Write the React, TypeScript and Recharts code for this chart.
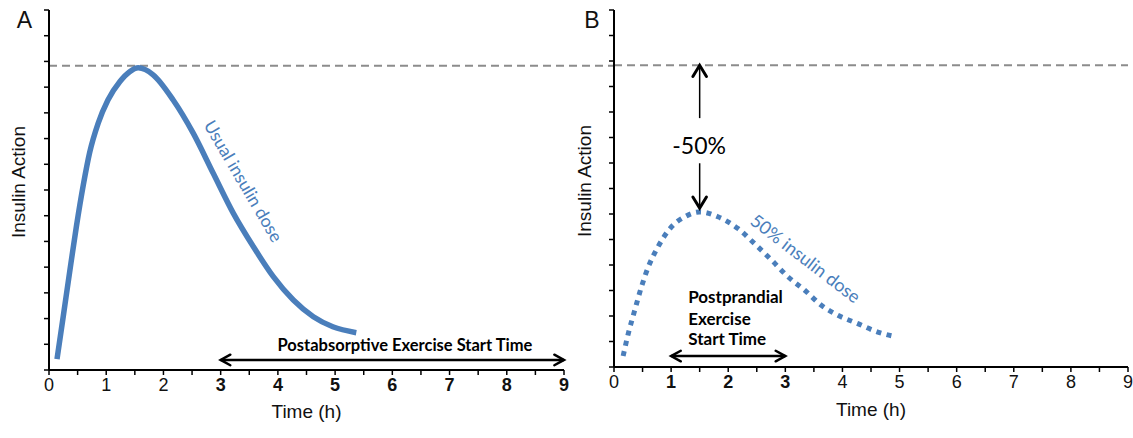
import React from 'react';
import { ComposedChart, Line, XAxis, YAxis, ReferenceLine, ReferenceDot } from 'recharts';

// panel A: usual insulin dose (solid)
const usualTime = [0.14, 0.25, 0.36, 0.48, 0.6, 0.71, 0.86, 1.03, 1.24, 1.41, 1.56, 1.82, 2.17, 2.52, 2.87, 3.22, 3.57, 3.92, 4.27, 4.62, 4.96, 5.37];
const usualAction = [0.42, 2.1, 3.8, 5.6, 7.2, 8.45, 9.6, 10.5, 11.22, 11.6, 11.75, 11.48, 10.5, 9.21, 7.65, 6.1, 4.8, 3.63, 2.72, 2.07, 1.68, 1.45];

// panel B: 50% insulin dose (dotted)
const halfTime = [0.16, 0.25, 0.36, 0.48, 0.6, 0.77, 0.98, 1.24, 1.5, 1.82, 2.17, 2.46, 2.76, 3.05, 3.34, 3.63, 3.92, 4.27, 4.62, 4.95];
const halfAction = [0.43, 1.31, 2.2, 3.14, 3.92, 4.71, 5.43, 5.89, 6.08, 5.89, 5.43, 4.84, 4.19, 3.53, 3.01, 2.42, 2.03, 1.7, 1.37, 1.18];

const timeTicks = [0, 0.5, 1, 1.5, 2, 2.5, 3, 3.5, 4, 4.5, 5, 5.5, 6, 6.5, 7, 7.5, 8, 8.5, 9];
const actionTicks = [0, 1, 2, 3, 4, 5, 6, 7, 8, 9, 10, 11, 12, 13, 14];
const peakLevel = 11.83;

const boldTicksA = [3, 4, 5, 6, 7, 8, 9];
const boldTicksB = [1, 2, 3];

// exercise windows [start, end] in hours
const windowA = [3, 9];
const windowB = [1, 3];

const usualData = usualTime.map((t, i) => ({ time: t, action: usualAction[i] }));
const halfData = halfTime.map((t, i) => ({ time: t, action: halfAction[i] }));

const BLUE = '#4a7ebb';
const NOTE_FONT = 'Lato, "Open Sans", sans-serif';
const AXIS_FONT = '"Liberation Sans", Arial, sans-serif';

const EmptyTick = () => <g />;

const timeTick = (bold: number[]) => (props: any) => {
  const { x, y, payload } = props;
  const v = payload.value;
  if (!Number.isInteger(v)) return <g />;
  return (
    <text x={x} y={y} dy={14} textAnchor="middle" fontFamily={AXIS_FONT} fontSize={18}
      fontWeight={bold.includes(v) ? 700 : 400} fill="#111">
      {v}
    </text>
  );
};

const dashedLine = (extra: number) => (p: any) => (
  <line x1={p.x1} y1={p.y1} x2={p.x2 + extra} y2={p.y2} stroke="#8c8c8c" strokeWidth={2} strokeDasharray="8 5" />
);

const arrow = (heads: 'both' | 'end', lineW: number, headLen: number, headW: number, spread = 0.5) => (p: any) => {
  const { x1, y1, x2, y2 } = p;
  const ang = Math.atan2(y2 - y1, x2 - x1);
  const chevron = (x: number, y: number, back: number) => {
    const a1 = [x + headLen * Math.cos(back + spread), y + headLen * Math.sin(back + spread)];
    const a2 = [x + headLen * Math.cos(back - spread), y + headLen * Math.sin(back - spread)];
    return (
      <polyline points={`${a1[0]},${a1[1]} ${x},${y} ${a2[0]},${a2[1]}`} fill="none" stroke="#000"
        strokeWidth={headW} strokeLinecap="round" strokeLinejoin="miter" />
    );
  };
  return (
    <g>
      <line x1={x1} y1={y1} x2={x2} y2={y2} stroke="#000" strokeWidth={lineW} />
      {heads === 'both' && chevron(x1, y1, ang)}
      {chevron(x2, y2, ang + Math.PI)}
    </g>
  );
};

const note = (text: string, opts: { size: number; color?: string; weight?: number; angle?: number; anchor?: string }) =>
  (p: any) => (
    <text x={p.cx} y={p.cy} textAnchor={opts.anchor || 'middle'} dominantBaseline="central"
      transform={opts.angle ? `rotate(${opts.angle} ${p.cx} ${p.cy})` : undefined}
      fontFamily={NOTE_FONT} fontSize={opts.size} fontWeight={opts.weight || 400} fill={opts.color || '#000'}>
      {text}
    </text>
  );

const Title = ({ text, cx, cy, size, rotate }: { text: string; cx: number; cy: number; size: number; rotate?: boolean }) => (
  <div style={{
    position: 'absolute', left: cx - 100, top: cy - 15, width: 200, height: 30, lineHeight: '30px',
    textAlign: 'center', fontSize: size, fontFamily: AXIS_FONT, color: '#111',
    transform: rotate ? 'rotate(-90deg)' : undefined,
  }}>{text}</div>
);

export default function App() {
  return (
    <div style={{ position: 'absolute', left: 0, top: 0, width: 1133, height: 438, background: '#fff', overflow: 'hidden' }}>
      <div style={{ position: 'absolute', left: 0, top: 0 }}>
        <ComposedChart width={614} height={438} data={usualData} margin={{ top: 10, right: 50, left: 0, bottom: 8 }}>
          <XAxis dataKey="time" type="number" domain={[0, 9]} ticks={timeTicks} interval={0} height={60}
            axisLine={{ stroke: '#000', strokeWidth: 2 }} tickLine={{ stroke: '#000', strokeWidth: 1.5 }} tickSize={5}
            tick={timeTick(boldTicksA)}
            label={{ value: 'Time (h)', position: 'insideBottom', offset: 12, fontSize: 19, fill: '#111', fontFamily: AXIS_FONT }} />
          <YAxis type="number" domain={[0, 14]} ticks={actionTicks} interval={0} width={49}
            axisLine={{ stroke: '#000', strokeWidth: 2 }} tickLine={{ stroke: '#000', strokeWidth: 1.5 }} tickSize={5}
            tick={EmptyTick} />
          <ReferenceLine y={peakLevel} shape={dashedLine(50)} />
          <Line dataKey="action" type="monotone" stroke={BLUE} strokeWidth={5.5} dot={false} activeDot={false}
            isAnimationActive={false} />
          <ReferenceLine segment={[{ x: windowA[0], y: 0.39 }, { x: windowA[1], y: 0.39 }]}
            shape={arrow('both', 2.5, 11, 2.5)} />
          <ReferenceDot x={6.22} y={0.97} r={0}
            shape={note('Postabsorptive Exercise Start Time', { size: 16.5, weight: 700 })} />
          <ReferenceDot x={3.4} y={7.35} r={0}
            shape={note('Usual insulin dose', { size: 17.5, color: BLUE, angle: 59.7 })} />
        </ComposedChart>
      </div>
      <div style={{ position: 'absolute', left: 560, top: 0 }}>
        <ComposedChart width={573} height={438} data={halfData} margin={{ top: 10, right: 5, left: 0, bottom: 11 }}>
          <XAxis dataKey="time" type="number" domain={[0, 9]} ticks={timeTicks} interval={0} height={60}
            axisLine={{ stroke: '#000', strokeWidth: 2 }} tickLine={{ stroke: '#000', strokeWidth: 1.5 }} tickSize={5}
            tick={timeTick(boldTicksB)}
            label={{ value: 'Time (h)', position: 'insideBottom', offset: 11, fontSize: 19, fill: '#111', fontFamily: AXIS_FONT }} />
          <YAxis type="number" domain={[0, 14]} ticks={actionTicks} interval={0} width={54}
            axisLine={{ stroke: '#000', strokeWidth: 2 }} tickLine={{ stroke: '#000', strokeWidth: 1.5 }} tickSize={5}
            tick={EmptyTick} />
          <ReferenceLine y={peakLevel} shape={dashedLine(0)} />
          <Line dataKey="action" type="monotone" stroke={BLUE} strokeWidth={5} strokeDasharray="5 5.5" dot={false}
            activeDot={false} isAnimationActive={false} />
          <ReferenceLine segment={[{ x: 1.5, y: 9.76 }, { x: 1.5, y: peakLevel }]} shape={arrow('end', 1.5, 13, 3, 0.55)} />
          <ReferenceLine segment={[{ x: 1.5, y: 7.99 }, { x: 1.5, y: 6.23 }]} shape={arrow('end', 1.5, 13, 3, 0.55)} />
          <ReferenceDot x={1.49} y={8.7} r={0} shape={note('-50%', { size: 23 })} />
          <ReferenceLine segment={[{ x: windowB[0], y: 0.43 }, { x: windowB[1], y: 0.43 }]}
            shape={arrow('both', 2.5, 11, 2.5)} />
          <ReferenceDot x={1.3} y={2.75} r={0} shape={note('Postprandial', { size: 17, weight: 700, anchor: 'start' })} />
          <ReferenceDot x={1.3} y={1.92} r={0} shape={note('Exercise', { size: 17, weight: 700, anchor: 'start' })} />
          <ReferenceDot x={1.3} y={1.11} r={0} shape={note('Start Time', { size: 17, weight: 700, anchor: 'start' })} />
          <ReferenceDot x={3.36} y={4.27} r={0}
            shape={note('50% insulin dose', { size: 18, color: BLUE, angle: 37.5 })} />
        </ComposedChart>
      </div>
      <Title text="A" cx={24.5} cy={20} size={23} />
      <Title text="B" cx={592} cy={20} size={23} />
      <Title text="Insulin Action" cx={19} cy={182} size={19} rotate />
      <Title text="Insulin Action" cx={585} cy={181} size={19} rotate />
    </div>
  );
}
